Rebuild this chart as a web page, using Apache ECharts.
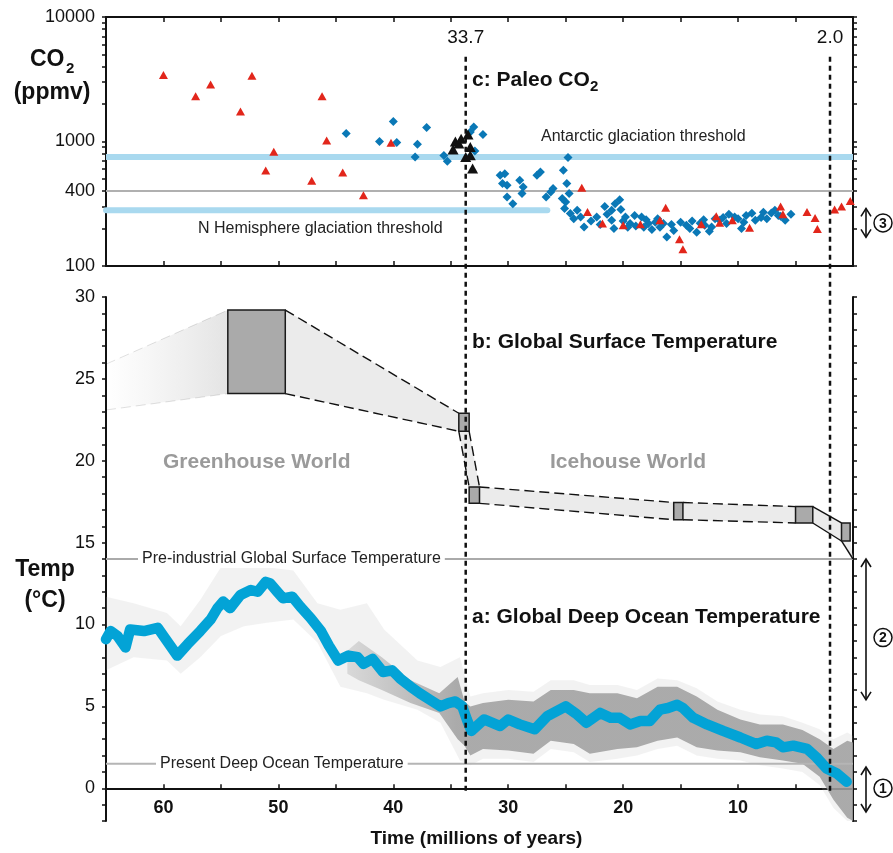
<!DOCTYPE html>
<html><head><meta charset="utf-8">
<script src="https://cdn.jsdelivr.net/npm/echarts@6/dist/echarts.min.js"></script>
<style>html,body{margin:0;padding:0;background:#fff}#c{width:893px;height:853px}</style>
</head><body><div id="c"></div><script>
// ---------------- DATA ----------------
// Paleo CO2 proxies (age Ma, ppmv)
const redMa = [60.0,57.2,55.9,52.3,53.3,46.2,45.8,50.4,51.1,47.1,44.4,42.6,40.2,23.6,23.1,21.8,20.0,18.5,16.8,16.3,15.1,14.8,13.2,11.9,11.6,10.5,9.0,6.3,6.1,4.0,3.3,3.1,1.6,1.0,0.24];
const redPpm = [3415,2313,2875,3380,1743,2313,1019,826,585,485,563,370,975,426,272,219,212,216,233,294,164,136,216,251,223,233,203,301,260,272,243,198,284,301,333];
const blueMa = [44.1,41.2,40.0,39.7,37.9,38.1,37.1,35.6,35.3,33.0,
 33.3,32.2,32.9,30.7,30.3,30.5,30.1,30.1,29.6,29.0,
 28.8,28.7,27.5,27.2,26.7,26.3,26.1,25.2,24.8,24.9,
 24.7,25.3,25.0,25.1,24.6,24.0,23.7,24.3,23.4,22.3,
 21.6,21.0,20.7,20.3,20.2,21.0,20.8,19.8,19.4,18.4,
 17.8,17.5,16.5,16.2,15.6,15.0,14.5,13.6,12.9,12.3,
 11.6,11.0,10.3,9.7,9.3,8.5,7.5,7.1,6.3,5.9,
 5.4,20.0,19.0,18.9,18.0,17.0,16.8,14.0,13.0,12.5,
 12.0,11.3,10.8,10.0,9.5,8.8,8.0,7.8,6.8,6.5,
 22.8,22.0,21.4,19.6,18.2,17.2,15.8,14.2,13.3];
const bluePpm = [1160,1000,1445,980,950,752,1297,773,693,1305,
 1190,1138,840,535,552,459,445,358,316,488,
 382,431,535,569,358,393,419,588,744,459,
 382,348,327,289,264,280,248,240,206,248,
 301,280,316,341,284,233,200,248,219,248,
 219,196,219,171,193,225,212,187,212,206,
 233,219,248,200,255,233,240,267,251,233,
 260,230,255,210,235,240,205,230,235,190,
 240,245,260,240,225,265,245,270,280,255,
 230,215,260,205,205,225,215,200,220];
const blackMa = [34.8,34.6,34.3,34.1,33.5,33.3,33.7,33.3,33.1];
const blackPpm = [862,1000,964,1050,1138,905,752,775,606];

// CO2 reference levels
const antarcticThreshold = 750;
const nhThreshold = 280;
const nhThresholdFrom = 26.6;
const co2Reference = 400;

// Deep ocean temperature (smoothed curve)
const deepMa = [65.0,64.6,64.0,63.3,62.9,61.7,60.5,60.0,58.8,57.9,
 56.8,55.9,55.3,54.8,54.2,53.3,52.4,51.8,51.1,50.7,
 50.1,49.6,48.8,48.1,47.2,46.3,45.6,44.8,43.9,43.1,
 42.6,41.8,40.9,40.1,39.4,38.5,37.7,36.8,35.9,35.2,
 34.6,34.0,33.6,33.2,32.1,30.7,30.0,29.0,27.7,26.6,
 25.0,24.0,23.2,22.0,21.1,20.3,19.4,18.5,17.7,16.8,
 16.1,15.3,14.8,13.9,12.7,11.3,9.8,8.4,7.5,6.7,
 6.1,5.2,4.0,3.2,2.3,1.4,0.55];
const deepT = [9.1,9.6,9.3,8.6,9.7,9.6,9.8,9.3,8.1,8.8,
 9.6,10.3,11.0,11.4,11.0,11.8,12.1,12.0,12.6,12.5,
 12.0,11.6,11.7,11.1,10.4,9.6,8.7,7.8,8.1,8.0,
 7.6,7.9,7.1,7.2,6.7,6.2,5.8,5.4,5.0,5.2,
 5.3,5.0,4.2,3.5,4.2,3.8,4.2,3.9,3.6,4.4,
 5.0,4.5,4.0,4.6,4.3,4.3,3.9,4.1,4.1,4.8,
 4.9,5.1,4.9,4.3,3.9,3.5,3.1,2.7,2.9,2.8,
 2.5,2.6,2.4,1.9,1.2,0.9,0.4];

// Raw deep-ocean data cloud envelopes
const outerMa = [65,62.6,59.7,58.5,56.8,55.0,53.0,51.0,48.7,46.6,44.6,42.3,40.8,37.9,35.9,34.2,33.3,32.2,30.0,27.8,26.3,24.3,22.9,20.5,18.8,17.0,15.3,13.6,11.8,9.8,8.1,6.1,4.4,2.9,1.7,0.5,0];
const outerHi = [11.7,11.3,10.7,9.9,11.5,13.5,13.5,13.5,13.3,11.3,10.9,11.3,9.7,7.8,7.4,8.0,5.6,5.8,6.0,5.9,6.6,6.6,6.3,6.3,6.0,6.7,6.6,6.1,5.3,4.8,4.5,4.4,4.0,3.6,3.0,3.4,3.2];
const outerLo = [7.2,8.0,7.8,7.0,8.0,9.3,9.9,10.1,10.3,8.9,6.2,5.8,5.4,4.8,4.0,1.7,1.4,1.8,1.8,1.6,2.4,2.2,1.6,1.8,2.0,2.4,2.6,2.0,1.8,1.7,1.4,1.2,1.0,0.2,-1.2,-2.0,-2.0];
const denseMa = [44.0,43.0,41.0,38.5,36.0,34.4,33.8,33.3,32.2,30.0,27.8,26.3,24.3,22.9,20.5,18.8,17.0,15.3,13.6,11.8,9.8,8.1,6.1,4.4,2.9,1.7,0.5,0];
const denseHi = [8.4,9.0,8.0,6.6,5.8,6.8,5.3,5.0,5.2,5.4,5.3,6.0,6.0,5.8,5.8,5.5,6.2,6.2,5.6,4.8,4.2,3.9,3.9,3.55,3.0,2.4,2.9,2.8];
const denseLo = [7.0,6.6,6.0,5.2,4.6,3.0,2.6,2.0,2.4,2.3,2.1,2.9,2.7,2.1,2.4,2.5,2.9,3.1,2.5,2.3,2.2,1.9,1.7,1.5,0.7,-0.7,-1.8,-2.0];

// Global surface temperature estimates (boxes: older age, younger age, low T, high T)
const surfOld   = [54.4, 34.3, 33.4, 15.6, 5.0, 1.0];
const surfYoung = [49.4, 33.4, 32.5, 14.8, 3.5, 0.25];
const surfLow   = [24.1, 21.8, 17.4, 16.4, 16.2, 15.1];
const surfHigh  = [29.2, 22.9, 18.4, 17.45, 17.2, 16.2];
const fadeStart = [65, 23.1, 25.9];   // age, low T, high T
const presentSurf = [0, 14];

const preIndustrialT = 14;
const presentDeepT = 1.5;
const markerAges = [33.7, 2.0];

// Axis tick values
const co2TickLabels = [100, 400, 1000, 10000];
const co2Ticks = [100,200,300,400,500,600,700,800,900,1000,2000,3000,4000,5000,6000,7000,8000,9000,10000];
const tempTickLabels = [0,5,10,15,20,25,30];
const tempTicks = [-2,-1,0,1,2,3,4,5,6,7,8,9,10,11,12,13,14,15,16,17,18,19,20,21,22,23,24,25,26,27,28,29,30];

// ---------------- CHART ----------------
const FONT = '"Liberation Sans", Arial, Helvetica, sans-serif';
const chart = echarts.init(document.getElementById('c'), null, {renderer:'canvas'});
const AL = {color:'#111', width:2};
const TK = {color:'#111', width:1.5};

function xAx(grid, pos, extra) {
  return Object.assign({gridIndex:grid, type:'value', min:0, max:65, interval:5, inverse:true, position:pos,
    axisLine:{show:true, onZero:false, lineStyle:AL},
    axisTick:{show:true, inside:true, length:5, lineStyle:TK},
    axisLabel:{show:false}, splitLine:{show:false}}, extra||{});
}

function bandRender(maArr, hiArr, loArr, fillFn) {
  return function(params, api) {
    if (params.dataIndex !== 0) return null;
    const pts = [];
    for (let i = 0; i < maArr.length; i++) pts.push(api.coord([maArr[i], hiArr[i]]));
    for (let i = maArr.length - 1; i >= 0; i--) pts.push(api.coord([maArr[i], loArr[i]]));
    return {type:'polygon', shape:{points:pts}, style:{fill:fillFn(api)}, silent:true};
  };
}

function surfRender(params, api) {
  const i = params.dataIndex, n = surfOld.length;
  const C = (x, y) => api.coord([x, y]);
  const ch = [];
  const bandFill = '#ebebeb';
  const dashS = {stroke:'#111', lineWidth:1.4, lineDash:[10,5], fill:null};
  const solidS = {stroke:'#111', lineWidth:1.4, fill:null};
  if (i === 0) {
    const a = C(fadeStart[0], fadeStart[2]), b = C(surfOld[0], surfHigh[0]);
    const c = C(surfOld[0], surfLow[0]), d = C(fadeStart[0], fadeStart[1]);
    ch.push({type:'polygon', shape:{points:[a,b,c,d]}, style:{fill:new echarts.graphic.LinearGradient(a[0],0,b[0],0,[{offset:0,color:'rgba(232,232,232,0)'},{offset:1,color:'#e4e4e4'}], true)}});
    ch.push({type:'polyline', shape:{points:[a,b]}, style:{stroke:'rgba(0,0,0,0.12)', lineWidth:1, lineDash:[10,5], fill:null}});
    ch.push({type:'polyline', shape:{points:[d,c]}, style:{stroke:'rgba(0,0,0,0.12)', lineWidth:1, lineDash:[10,5], fill:null}});
  }
  if (i < n - 1) {
    const j = i + 1;
    const ls = i >= 4 ? solidS : dashS;
    let p1, p2, p3, p4;
    if (i === 1) {
      p1 = C(surfOld[i], surfLow[i]); p2 = C(surfYoung[i], surfLow[i]);
      p3 = C(surfYoung[j], surfHigh[j]); p4 = C(surfOld[j], surfHigh[j]);
      ch.push({type:'polygon', shape:{points:[p1,p2,p3,p4]}, style:{fill:bandFill}});
      ch.push({type:'polyline', shape:{points:[p1,p4]}, style:ls});
      ch.push({type:'polyline', shape:{points:[p2,p3]}, style:ls});
    } else {
      p1 = C(surfYoung[i], surfHigh[i]); p2 = C(surfOld[j], surfHigh[j]);
      p3 = C(surfOld[j], surfLow[j]); p4 = C(surfYoung[i], surfLow[i]);
      ch.push({type:'polygon', shape:{points:[p1,p2,p3,p4]}, style:{fill:bandFill}});
      ch.push({type:'polyline', shape:{points:[p1,p2]}, style:ls});
      ch.push({type:'polyline', shape:{points:[p4,p3]}, style:ls});
    }
  } else {
    const p1 = C(surfOld[i], surfLow[i]), p2 = C(surfYoung[i], surfLow[i]), p3 = C(presentSurf[0], presentSurf[1]);
    ch.push({type:'polygon', shape:{points:[p1,p2,p3]}, style:{fill:bandFill}});
    ch.push({type:'polyline', shape:{points:[p1,p3]}, style:solidS});
  }
  const tl = C(surfOld[i], surfHigh[i]), br = C(surfYoung[i], surfLow[i]);
  ch.push({type:'rect', shape:{x:tl[0], y:tl[1], width:br[0]-tl[0], height:br[1]-tl[1]}, style:{fill:'#aaaaaa', stroke:'#1a1a1a', lineWidth:1.5}});
  return {type:'group', children:ch};
}

const option = {
  animation:false,
  backgroundColor:'#fff',
  textStyle:{fontFamily:FONT},
  grid:[
    {left:106, right:40, top:17, height:249, outerBoundsMode:'none', containLabel:false},
    {left:106, right:40, top:297, height:524, outerBoundsMode:'none', containLabel:false}
  ],
  xAxis:[
    xAx(0,'bottom'),
    xAx(0,'top'),
    xAx(1,'bottom',{
      axisLine:{show:true, onZero:true, lineStyle:AL},
      axisTick:{show:true, inside:true, length:4, lineStyle:TK},
      axisLabel:{show:true, margin:-22, fontSize:18, fontWeight:'bold', color:'#111', fontFamily:FONT,
        formatter:v => (v % 10 === 0 && v > 0 && v < 65) ? String(v) : ''}
    })
  ],
  yAxis:[
    {gridIndex:0, type:'log', logBase:10, min:100, max:10000, position:'left',
      axisLine:{show:true, onZero:false, lineStyle:AL},
      axisTick:{show:true, length:4, customValues:co2Ticks, lineStyle:TK},
      axisLabel:{show:true, customValues:co2TickLabels, margin:11, fontSize:18, color:'#111', fontFamily:FONT, formatter:v => String(Math.round(v))},
      splitLine:{show:false}, minorTick:{show:false}},
    {gridIndex:0, type:'log', logBase:10, min:100, max:10000, position:'right',
      axisLine:{show:true, onZero:false, lineStyle:AL},
      axisTick:{show:true, length:4, customValues:co2Ticks, lineStyle:TK},
      axisLabel:{show:false}, splitLine:{show:false}},
    {gridIndex:1, type:'value', min:-2, max:30, position:'left',
      axisLine:{show:true, onZero:false, lineStyle:AL},
      axisTick:{show:true, length:4, customValues:tempTicks, lineStyle:TK},
      axisLabel:{show:true, customValues:tempTickLabels, margin:11, fontSize:18, color:'#111', fontFamily:FONT},
      splitLine:{show:false}},
    {gridIndex:1, type:'value', min:-2, max:30, position:'right',
      axisLine:{show:true, onZero:false, lineStyle:AL},
      axisTick:{show:true, length:4, customValues:tempTicks, lineStyle:TK},
      axisLabel:{show:false}, splitLine:{show:false}}
  ],
  series:[
    {type:'line', xAxisIndex:0, yAxisIndex:0, data:[[65,antarcticThreshold],[0,antarcticThreshold]], symbol:'none', silent:true, z:1,
      lineStyle:{color:'#a9d9ef', width:6}},
    {type:'line', xAxisIndex:0, yAxisIndex:0, data:[[65,nhThreshold],[nhThresholdFrom,nhThreshold]], symbol:'none', silent:true, z:1,
      lineStyle:{color:'#a9d9ef', width:6, cap:'round'}},
    {type:'line', xAxisIndex:0, yAxisIndex:0, data:[[65,co2Reference],[0,co2Reference]], symbol:'none', silent:true, z:1,
      lineStyle:{color:'#b0b0b0', width:2}},
    {type:'scatter', xAxisIndex:0, yAxisIndex:0, data:blueMa.map((m,i)=>[m,bluePpm[i]]), symbol:'diamond', symbolSize:9, z:3,
      itemStyle:{color:'#0a78b6', opacity:1}},
    {type:'scatter', xAxisIndex:0, yAxisIndex:0, data:redMa.map((m,i)=>[m,redPpm[i]]), symbol:'triangle', symbolSize:[9,8], z:4,
      itemStyle:{color:'#e2261b', opacity:1}},
    {type:'scatter', xAxisIndex:0, yAxisIndex:0, data:blackMa.map((m,i)=>[m,blackPpm[i]]), symbol:'triangle', symbolSize:[11,10], z:5,
      itemStyle:{color:'#111', opacity:1}},
    // bottom panel
    {type:'custom', xAxisIndex:2, yAxisIndex:2, silent:true, z:1,
      data:outerMa.map((m,i)=>[m,outerHi[i],outerLo[i]]), encode:{x:0, y:[1,2]},
      renderItem:bandRender(outerMa, outerHi, outerLo, () => 'rgba(175,175,175,0.17)')},
    {type:'custom', xAxisIndex:2, yAxisIndex:2, silent:true, z:2,
      data:denseMa.map((m,i)=>[m,denseHi[i],denseLo[i]]), encode:{x:0, y:[1,2]},
      renderItem:bandRender(denseMa, denseHi, denseLo, (api) => {
        const a = api.coord([44, 0])[0], b = api.coord([34.5, 0])[0];
        return new echarts.graphic.LinearGradient(a,0,b,0,[{offset:0,color:'rgba(158,158,158,0.3)'},{offset:1,color:'rgba(158,158,158,0.85)'}], true);
      })},
    {type:'line', xAxisIndex:2, yAxisIndex:2, data:[[65,preIndustrialT],[0,preIndustrialT]], symbol:'none', silent:true, z:3,
      lineStyle:{color:'#aaaaaa', width:2}},
    {type:'line', xAxisIndex:2, yAxisIndex:2, data:[[65,presentDeepT],[0,presentDeepT]], symbol:'none', silent:true, z:3,
      lineStyle:{color:'#b5b5b5', width:2}},
    {type:'line', xAxisIndex:2, yAxisIndex:2, data:deepMa.map((m,i)=>[m,deepT[i]]), symbol:'none', silent:true, z:4,
      lineStyle:{color:'#03a3d6', width:10.5, cap:'round', join:'round'}},
    {type:'custom', xAxisIndex:2, yAxisIndex:2, silent:true, z:5,
      data:surfOld.map((o,i)=>[o,surfYoung[i],surfLow[i],surfHigh[i]]), encode:{x:[0,1], y:[2,3]},
      renderItem:surfRender}
  ]
};
chart.setOption(option);

// ---------------- ANNOTATIONS ----------------
const g0 = (x,y) => chart.convertToPixel({xAxisIndex:0, yAxisIndex:0}, [x,y]);
const g1 = (x,y) => chart.convertToPixel({xAxisIndex:2, yAxisIndex:2}, [x,y]);
function txt(x, y, text, font, fill, align, extra) {
  return {type:'text', x:x, y:y, z:100,
    style:Object.assign({text:text, font:font, fill:fill||'#111', align:align||'left', textAlign:align||'left', verticalAlign:'middle', textVerticalAlign:'middle'}, extra||{})};
}
const G = [];
const B21 = 'bold 21px ' + FONT, B23 = 'bold 23px ' + FONT, R16 = '16px ' + FONT, R19 = '19px ' + FONT;
markerAges.forEach(age => {
  const top = g0(age, 4800), bot = g1(age, -0.15);
  G.push({type:'line', z:90, shape:{x1:top[0], y1:top[1], x2:bot[0], y2:bot[1]}, style:{stroke:'#111', lineWidth:2.5, lineDash:[5,4]}});
  G.push(txt(top[0], top[1]-19, age.toFixed(1), R19, '#111', 'center'));
});
// axis titles
G.push(txt(30, 60, 'CO', B23));
G.push(txt(66, 69, '2', 'bold 15px ' + FONT));
G.push(txt(52, 93, '(ppmv)', B23, '#111', 'center'));
G.push(txt(45, 570, 'Temp', B23, '#111', 'center'));
G.push(txt(45, 601, '(°C)', B23, '#111', 'center'));
G.push(txt((g1(65,0)[0] + g1(0,0)[0]) / 2 - 3, 839, 'Time (millions of years)', 'bold 19px ' + FONT, '#111', 'center'));
// panel labels
G.push(txt(472, 80, 'c: Paleo CO', B21));
G.push(txt(590, 87, '2', 'bold 15px ' + FONT));
G.push(txt(472, 342, 'b: Global Surface Temperature', B21));
G.push(txt(472, 617, 'a: Global Deep Ocean Temperature', B21));
G.push(txt(163, 462, 'Greenhouse World', B21, '#9a9a9a'));
G.push(txt(550, 462, 'Icehouse World', B21, '#9a9a9a'));
// threshold labels
G.push(txt(541, g0(0, antarcticThreshold)[1] - 20, 'Antarctic glaciation threshold', R16, '#222'));
G.push(txt(198, g0(0, nhThreshold)[1] + 18, 'N Hemisphere glaciation threshold', R16, '#222'));
G.push(txt(138, g1(0, preIndustrialT)[1], 'Pre-industrial Global Surface Temperature', R16, '#222', 'left', {backgroundColor:'#fff', padding:[1,4]}));
G.push(txt(156, g1(0, presentDeepT)[1], 'Present Deep Ocean Temperature', R16, '#222', 'left', {backgroundColor:'#fff', padding:[1,4]}));
// range arrows with circled numbers
function arrow(x, y1, y2, num, cy) {
  const s = {stroke:'#111', lineWidth:1.6, fill:null};
  G.push({type:'line', z:95, shape:{x1:x, y1:y1, x2:x, y2:y2}, style:s});
  G.push({type:'polyline', z:95, shape:{points:[[x-5,y1+8],[x,y1],[x+5,y1+8]]}, style:s});
  G.push({type:'polyline', z:95, shape:{points:[[x-5,y2-8],[x,y2],[x+5,y2-8]]}, style:s});
  G.push({type:'circle', z:95, shape:{cx:883, cy:cy, r:9}, style:{fill:'#fff', stroke:'#111', lineWidth:1.5}});
  G.push(txt(883, cy+1, num, 'bold 14px ' + FONT, '#111', 'center'));
}
arrow(866, g0(0, 290)[1], g0(0, 170)[1], '3', g0(0, 222)[1]);
arrow(866, g1(0, preIndustrialT)[1], g1(0, 5.4)[1], '2', g1(0, 9.2)[1]);
arrow(866, g1(0, 1.3)[1], g1(0, -1.45)[1], '1', g1(0, 0)[1]);
chart.setOption({graphic:G});
</script></body></html>
